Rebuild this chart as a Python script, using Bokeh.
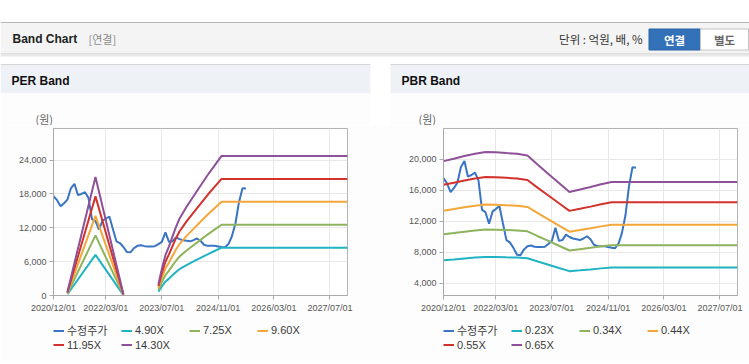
import pandas as pd
from bokeh.plotting import figure
from bokeh.models import (Range1d, FixedTicker, NumeralTickFormatter,
                          DatetimeTickFormatter, Legend, LegendItem)
from bokeh.layouts import column, row
from bokeh.embed import file_html
from bokeh.resources import INLINE
from bokeh.core.properties import value

nan = float("nan")

# ---------------- data ----------------
x_start = "2020-12-01"
x_end = "2027-12-01"
x_tick_labels = ["2020/12/01", "2022/03/01", "2023/07/01", "2024/11/01", "2026/03/01", "2027/07/01"]

price_label = "수정주가"
price_first_month = "2020-12-01"
price = [17600, 16900, 15800, 16300, 17000, 19000, 19800, 17800, 18000, 18300,
         17300, 13500, 13200, 11700, 13300, 13600, 14000, 11800, 9600, 9300,
         8600, 7700, 7650, 8400, 8800, 8900, 8750, 8700, 8700, 8750,
         9100, 9500, 11200, 9500, 9600, 10300, 10000, 9800, 9700, 9600,
         9800, 10100, 9700, 9000, 8800, 8800, 8800, 8700, 8600, 8550,
         9200, 10500, 12800, 16500, 19000, 18950]

per_dates = ["2021-04-01", "2021-12-01", "2022-08-01", "2022-09-01", "2023-06-01", "2023-07-01",
             "2023-08-01", "2023-09-01", "2023-10-01", "2023-11-01", "2023-12-01", "2024-02-01",
             "2024-04-01", "2024-06-01", "2024-08-01", "2024-10-01", "2024-12-01", "2027-12-01"]
per_labels = ["4.90X", "7.25X", "9.60X", "11.95X", "14.30X"]
per_490 = [220, 7200, 70, nan, 690, 1620, 2450, 2990, 3580, 4170, 4660, 5390, 6030, 6660, 7300, 7890, 8480, 8480]
per_725 = [330, 10660, 110, nan, 1020, 2390, 3630, 4420, 5290, 6160, 6890, 7980, 8920, 9860, 10800, 11670, 12540, 12540]
per_960 = [430, 14110, 140, nan, 1340, 3170, 4800, 5860, 7010, 8160, 9120, 10560, 11810, 13060, 14300, 15460, 16610, 16610]
per_1195 = [540, 17570, 180, nan, 1670, 3940, 5980, 7290, 8720, 10160, 11350, 13150, 14700, 16250, 17810, 19240, 20670, 20670]
per_1430 = [640, 21020, 210, nan, 2000, 4720, 7150, 8720, 10440, 12160, 13590, 15730, 17590, 19450, 21310, 23020, 24740, 24740]
per_y_ticks = [0, 6000, 12000, 18000, 24000]
per_y_range = (0, 29600)

pbr_dates = ["2020-12-01", "2021-03-01", "2021-06-01", "2021-09-01", "2021-12-01", "2022-03-01",
             "2022-06-01", "2022-09-01", "2022-12-01", "2023-03-01", "2023-06-01", "2023-09-01",
             "2023-12-01", "2024-03-01", "2024-06-01", "2024-09-01", "2024-12-01", "2027-12-01"]
pbr_labels = ["0.23X", "0.34X", "0.44X", "0.55X", "0.65X"]
pbr_023 = [7000, 7110, 7230, 7340, 7420, 7410, 7370, 7340, 7260, 6830, 6420, 6000, 5590, 5700, 5820, 5950, 6050, 6050]
pbr_034 = [10350, 10510, 10690, 10850, 10970, 10950, 10900, 10850, 10730, 10100, 9490, 8870, 8260, 8430, 8600, 8790, 8940, 8940]
pbr_044 = [13400, 13600, 13840, 14040, 14190, 14170, 14100, 14040, 13880, 13070, 12280, 11480, 10690, 10910, 11130, 11370, 11570, 11570]
pbr_055 = [16750, 17000, 17300, 17550, 17740, 17710, 17630, 17550, 17350, 16340, 15350, 14360, 13370, 13640, 13920, 14220, 14470, 14470]
pbr_065 = [19790, 20090, 20440, 20740, 20960, 20930, 20830, 20740, 20510, 19310, 18140, 16970, 15800, 16120, 16450, 16800, 17100, 17100]
pbr_y_ticks = [4000, 8000, 12000, 16000, 20000]
pbr_y_range = (2450, 24000)

price_color = "#3a74c4"
band_colors = ["#22b3c3", "#8db45c", "#f3a73a", "#d2322c", "#8e5098"]

FONT = "Liberation Sans, Noto Sans CJK KR"
KFONT = "Noto Sans CJK KR"
BODY = "#fdfdfd"


def bare(fig):
    fig.axis.visible = False
    fig.grid.visible = False
    fig.outline_line_color = None
    return fig


# ---------------- header (page coordinates) ----------------
hdr = bare(figure(width=749, height=125, x_range=Range1d(0, 749), y_range=Range1d(125, 0),
                  output_backend="svg", toolbar_location=None, min_border=0))
hdr.background_fill_color = "white"
hdr.border_fill_color = "white"

hdr.quad(left=[0], right=[749], top=[22], bottom=[53], fill_color="#f4f4f4", line_color=None)
hdr.quad(left=[0], right=[749], top=[21.5], bottom=[22.5], fill_color="#b9b9b9", line_color=None)
hdr.quad(left=[0], right=[749], top=[53], bottom=[54], fill_color="#c6c6c6", line_color=None)
hdr.quad(left=[0], right=[749], top=[54], bottom=[56], fill_color="#e8e8e8", line_color=None)
hdr.text(x=[12], y=[38.5], text=["Band Chart"], text_font=value(FONT), text_font_style="bold",
         text_font_size="12px", text_color="#222222", text_baseline="middle")
hdr.text(x=[88], y=[38.5], text=["[연결]"], text_font=value(KFONT),
         text_font_size="11px", text_color="#8a8a8a", text_baseline="middle")
hdr.text(x=[642], y=[38.5], text=["단위 : 억원, 배, %"], text_font=value(KFONT),
         text_font_size="11.5px", text_color="#333333", text_baseline="middle", text_align="right")
hdr.quad(left=[648.5], right=[700], top=[28.5], bottom=[49.5], fill_color="#3372b8", line_color="#2a62a3")
hdr.quad(left=[700], right=[748], top=[28.5], bottom=[49.5], fill_color="#ffffff", line_color="#c4c4c4")
hdr.text(x=[674], y=[39], text=["연결"], text_font=value(KFONT), text_font_style="bold",
         text_font_size="11.5px", text_color="white", text_baseline="middle", text_align="center")
hdr.text(x=[724], y=[39], text=["별도"], text_font=value(KFONT), text_font_style="bold",
         text_font_size="11.5px", text_color="#666666", text_baseline="middle", text_align="center")

for l, r in [(0, 370), (390, 749)]:
    hdr.quad(left=[l], right=[r], top=[64], bottom=[93], fill_color="#eef1f6", line_color=None)
    hdr.quad(left=[l], right=[r], top=[63.5], bottom=[64.5], fill_color="#d6d6d6", line_color=None)
    hdr.quad(left=[l], right=[r], top=[93], bottom=[125], fill_color=BODY, line_color=None)
hdr.text(x=[11, 401], y=[80, 80], text=["PER Band", "PBR Band"], text_font=value(FONT),
         text_font_style="bold", text_font_size="12px", text_color="#111111", text_baseline="middle")
hdr.text(x=[35, 418], y=[118, 118], text=["(원)", "(원)"], text_font=value(KFONT),
         text_font_size="11px", text_color="#666666", text_baseline="middle")


def add_series(fig, band_dates, bands):
    dates = pd.date_range(price_first_month, periods=len(price), freq="MS")
    rs = [fig.line(dates, price, line_color=price_color, line_width=2)]
    bd = pd.to_datetime(band_dates)
    for vals, col in zip(bands, band_colors):
        rs.append(fig.line(bd, vals, line_color=col, line_width=2))
    return rs


# ---------------- band plots ----------------
def make_band_plot(width, b_left, b_right, y_range, y_ticks, band_dates, bands):
    p = figure(width=width, height=193, x_axis_type="datetime",
               x_range=Range1d(pd.Timestamp(x_start), pd.Timestamp(x_end)),
               y_range=Range1d(*y_range), output_backend="svg", toolbar_location=None,
               min_border_left=b_left, min_border_right=b_right, min_border_top=3, min_border_bottom=23)
    p.background_fill_color = "white"
    p.border_fill_color = BODY
    p.outline_line_color = "#b3b3b3"
    p.grid.grid_line_color = "#e8e8e8"

    tick_ms = [pd.Timestamp(pd.to_datetime(t, format="%Y/%m/%d")).value // 10**6 for t in x_tick_labels]
    p.xaxis.ticker = FixedTicker(ticks=tick_ms)
    fmt = "%Y/%m/%d"
    p.xaxis.formatter = DatetimeTickFormatter(milliseconds=fmt, seconds=fmt, minsec=fmt, minutes=fmt,
                                              hourmin=fmt, hours=fmt, days=fmt, months=fmt, years=fmt)
    p.yaxis.ticker = FixedTicker(ticks=y_ticks)
    p.yaxis.formatter = NumeralTickFormatter(format="0,0")
    for ax in (p.xaxis, p.yaxis):
        ax.axis_line_color = "#a9a9a9"
        ax.major_tick_line_color = "#a9a9a9"
        ax.major_tick_out = 4
        ax.major_tick_in = 0
        ax.minor_tick_line_color = None
        ax.major_label_text_font = FONT
        ax.major_label_text_font_size = "9px"
        ax.major_label_text_color = "#555555"
        ax.major_label_standoff = 3

    add_series(p, band_dates, bands)
    return p


# legend strip below each plot (series drawn off-view, only legend swatches visible)
def make_legend(width, x_off, band_dates, bands, labels):
    lf = bare(figure(width=width, height=44, x_axis_type="datetime",
                     x_range=Range1d(pd.Timestamp(x_start), pd.Timestamp(x_end)),
                     y_range=Range1d(-2, -1), output_backend="svg", toolbar_location=None,
                     min_border_left=x_off, min_border_top=4, min_border_right=0, min_border_bottom=0))
    lf.background_fill_color = BODY
    lf.border_fill_color = BODY
    rs = add_series(lf, band_dates, bands)
    items = [LegendItem(label=lab, renderers=[r]) for lab, r in zip([price_label] + labels, rs)]
    leg = Legend(items=items, location="top_left", orientation="horizontal", ncols=4,
                 glyph_width=11, glyph_height=13, label_height=13, label_width=54,
                 label_standoff=3, spacing=-3, padding=0, margin=0,
                 label_text_font=FONT, label_text_font_size="11px",
                 label_text_color="#3a3a3a", background_fill_alpha=0, border_line_alpha=0)
    lf.add_layout(leg, "center")
    return lf


per_bands = [per_490, per_725, per_960, per_1195, per_1430]
pbr_bands = [pbr_023, pbr_034, pbr_044, pbr_055, pbr_065]
left = make_band_plot(378, 49, 31, per_y_range, per_y_ticks, per_dates, per_bands)
right = make_band_plot(371, 61, 12, pbr_y_range, pbr_y_ticks, pbr_dates, pbr_bands)
left_leg = make_legend(378, 53, per_dates, per_bands, per_labels)
right_leg = make_legend(371, 65, pbr_dates, pbr_bands, pbr_labels)

# ---------------- footer line ----------------
ftr = bare(figure(width=749, height=2, x_range=Range1d(0, 749), y_range=Range1d(364, 362),
                  output_backend="svg", toolbar_location=None, min_border=0))
ftr.border_fill_color = "white"
ftr.background_fill_color = "white"
ftr.quad(left=[0, 390], right=[370, 749], top=[362, 362], bottom=[363, 363],
         fill_color=BODY, line_color=None)
ftr.quad(left=[0, 390], right=[370, 749], top=[363, 363], bottom=[364, 364],
         fill_color="#cfcfcf", line_color=None)

layout = column(hdr,
                row(column(left, left_leg, spacing=0), column(right, right_leg, spacing=0), spacing=0),
                ftr, spacing=0)
open("out.html", "w").write(file_html(layout, INLINE))
